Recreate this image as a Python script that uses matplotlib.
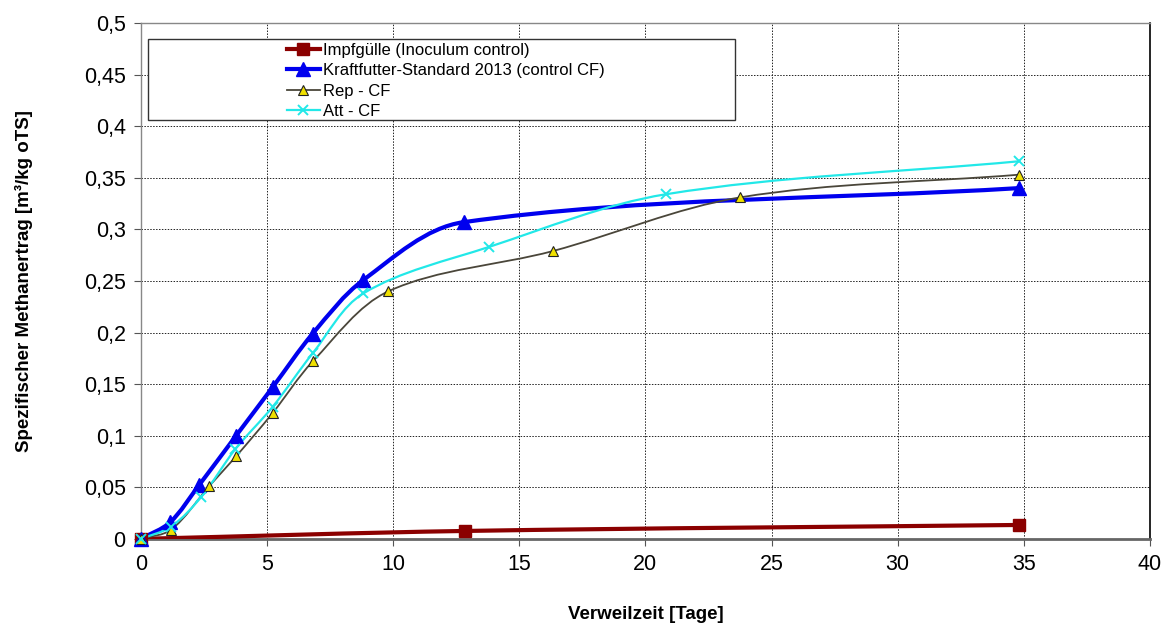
import numpy as np
import matplotlib.pyplot as plt
from matplotlib.path import Path
from matplotlib.patches import PathPatch, Rectangle
from matplotlib.lines import Line2D
from matplotlib.ticker import FuncFormatter, MultipleLocator

plt.rcParams['font.family'] = ['Liberation Sans', 'DejaVu Sans']

impf_x = [0, 12.85, 34.8]
impf_y = [0, 0.0077, 0.0135]

kf_x = [0, 1.15, 2.3, 3.77, 5.22, 6.81, 8.82, 12.79, 34.8]
kf_y = [0, 0.016, 0.052, 0.100, 0.147, 0.199, 0.251, 0.307, 0.340]

rep_x = [0, 1.2, 2.7, 3.77, 5.22, 6.81, 9.81, 16.33, 23.75, 34.8]
rep_y = [0, 0.009, 0.051, 0.080, 0.122, 0.172, 0.240, 0.279, 0.331, 0.353]

att_x = [0, 1.2, 2.4, 3.74, 5.22, 6.81, 8.82, 13.8, 20.8, 34.8]
att_y = [0, 0.012, 0.041, 0.087, 0.128, 0.180, 0.238, 0.283, 0.334, 0.366]

labels = ["Impfgülle (Inoculum control)",
          "Kraftfutter-Standard 2013 (control CF)",
          "Rep - CF",
          "Att - CF"]


def smooth_path(xs, ys, sx=25.2, sy=1032.0):
    # geglaettete Linie (Bezier, Tangenten nach Sehnenlaenge in Pixelmass)
    p = np.column_stack([xs, ys]).astype(float)
    n = len(p)
    d = np.hypot(np.diff(p[:, 0]) * sx, np.diff(p[:, 1]) * sy)
    m = np.zeros_like(p)
    m[0] = (p[1] - p[0]) / d[0]
    m[-1] = (p[-1] - p[-2]) / d[-1]
    for i in range(1, n - 1):
        m[i] = (p[i + 1] - p[i - 1]) / (d[i - 1] + d[i])
    verts = [p[0]]
    codes = [Path.MOVETO]
    for i in range(n - 1):
        c1 = p[i] + m[i] * d[i] / 3.0
        c2 = p[i + 1] - m[i + 1] * d[i] / 3.0
        verts += [c1, c2, p[i + 1]]
        codes += [Path.CURVE4] * 3
    return Path(verts, codes)


fig = plt.figure(figsize=(11.65, 6.23), dpi=100)
ax = fig.add_axes([0.121, 0.135, 0.866, 0.828])

series = [
    (impf_x, impf_y, dict(color='#8B0000', lw=3.0), dict(marker='s', ms=9, mfc='#8B0000', mec='#8B0000')),
    (kf_x, kf_y, dict(color='#0000EE', lw=3.0), dict(marker='^', ms=10, mfc='#0000EE', mec='#0000EE')),
    (rep_x, rep_y, dict(color='#4a463a', lw=1.3), dict(marker='^', ms=6.5, mfc='#F0E000', mec='#222222', mew=0.8)),
    (att_x, att_y, dict(color='#22E8E8', lw=1.6), dict(marker='x', ms=7, mfc='#22E8E8', mec='#22E8E8', mew=1.4)),
]

handles = []
for xs, ys, lstyle, mstyle in series:
    ax.add_patch(PathPatch(smooth_path(xs, ys), fill=False, ec=lstyle['color'],
                           lw=lstyle['lw'], zorder=3, capstyle='round', joinstyle='round'))
    ax.plot(xs, ys, ls='none', zorder=4, clip_on=False, **mstyle)
    handles.append(Line2D([], [], color=lstyle['color'], lw=lstyle['lw'], **mstyle))

ax.set_xlim(0, 40)
ax.set_ylim(0, 0.5)
ax.xaxis.set_major_locator(MultipleLocator(5))
ax.yaxis.set_major_locator(MultipleLocator(0.05))
fmt = FuncFormatter(lambda v, pos: ('%g' % round(v, 3)).replace('.', ','))
ax.xaxis.set_major_formatter(fmt)
ax.yaxis.set_major_formatter(fmt)
ax.tick_params(labelsize=15.5, length=5, color='#555555', pad=6)

ax.grid(True, color='#222222', ls=(0, (1.5, 1.5)), lw=0.7)
ax.set_axisbelow(True)
for s in ['top', 'left']:
    ax.spines[s].set_color('#888888')
    ax.spines[s].set_linewidth(1.0)
ax.spines['bottom'].set_color('#666666')
ax.spines['bottom'].set_linewidth(2.0)
ax.spines['right'].set_color('black')
ax.spines['right'].set_linewidth(1.2)

ax.set_xlabel("Verweilzeit [Tage]", fontsize=13.5, fontweight='bold')
ax.xaxis.set_label_coords(0.5, -0.13)
ax.set_ylabel("Spezifischer Methanertrag [m³/kg oTS]", fontsize=13.5, fontweight='bold')
ax.yaxis.set_label_coords(-0.107, 0.5)

# Legendenrahmen
ax.add_patch(Rectangle((0.007, 0.813), 0.582, 0.157, transform=ax.transAxes,
                       fill=True, fc='white', ec='#333333', lw=1.0, zorder=5))
leg = ax.legend(handles, labels, loc='upper left', bbox_to_anchor=(0.133, 0.984),
                frameon=False, fontsize=12, handlelength=2.0, handletextpad=0.15,
                labelspacing=0.32, borderpad=0.2)
leg.set_zorder(6)

fig.savefig("out.png", dpi=100)
